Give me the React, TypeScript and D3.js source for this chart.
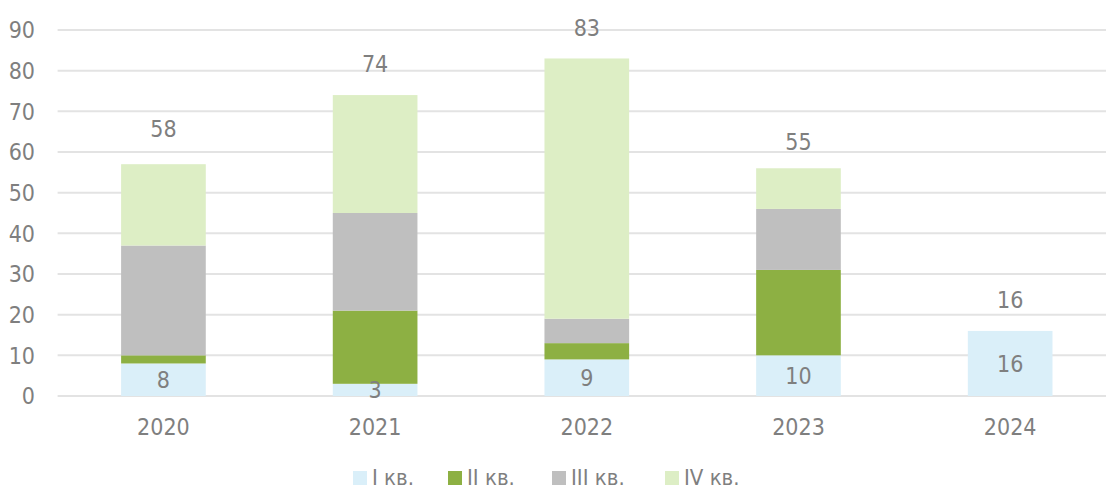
import React from 'react';
import * as d3 from 'd3';

const years = ['2020', '2021', '2022', '2023', '2024'];
const q1 = [8, 3, 9, 10, 16];
const q2 = [2, 18, 4, 21, 0];
const q3 = [27, 24, 6, 15, 0];
const q4 = [20, 29, 64, 10, 0];
const totals = [58, 74, 83, 55, 16];
const yTicks = [0, 10, 20, 30, 40, 50, 60, 70, 80, 90];
const seriesNames = ['I кв.', 'II кв.', 'III кв.', 'IV кв.'];
const colors = ['#DAEFF9', '#8DB043', '#BFBFBF', '#DDEEC5'];

const width = 1106;
const height = 491;
const font = '"DejaVu Sans Condensed", "DejaVu Sans", sans-serif';
const textColor = '#7F7F7F';

export default function App() {
  const x = d3.scaleBand<string>()
    .domain(years)
    .range([57.6, 1116])
    .paddingInner(0.6)
    .paddingOuter(0.3);

  const y = d3.scaleLinear().domain([0, 90]).range([396, 30]);

  const table = years.map((yr, i) => ({ year: yr, q1: q1[i], q2: q2[i], q3: q3[i], q4: q4[i] }));
  const stack = d3.stack<any>().keys(['q1', 'q2', 'q3', 'q4'])(table);

  // legend layout (square + label)
  const legendX = [353, 448, 552, 665];

  return (
    <svg width={width} height={height} style={{ position: 'absolute', left: 0, top: 0, background: '#fff' }}
      fontFamily={font} fontStretch="condensed">
      {yTicks.map(t => (
        <g key={t}>
          <line x1={57.6} x2={width} y1={y(t)} y2={y(t)} stroke="#E3E3E3" strokeWidth={2} />
          <text x={35} y={y(t)} dy="0.36em" textAnchor="end" fontSize={23} fill={textColor}>{t}</text>
        </g>
      ))}
      {stack.map((layer, k) => (
        <g key={k} fill={colors[k]}>
          {layer.map((d, i) => (d[1] - d[0] > 0 ?
            <rect key={i} x={x(years[i])} width={x.bandwidth()} y={y(d[1])} height={y(d[0]) - y(d[1])} /> : null))}
        </g>
      ))}
      {q1.map((v, i) => (
        <text key={'q' + i} x={x(years[i])! + x.bandwidth() / 2} y={y(v / 2)} dy="0.36em"
          textAnchor="middle" fontSize={23} fill={textColor}>{v}</text>
      ))}
      {totals.map((v, i) => (
        <text key={'t' + i} x={x(years[i])! + x.bandwidth() / 2} y={y(v) - 31} dy="0.36em"
          textAnchor="middle" fontSize={23} fill={textColor}>{v}</text>
      ))}
      {years.map(yr => (
        <text key={yr} x={x(yr)! + x.bandwidth() / 2} y={427} dy="0.36em"
          textAnchor="middle" fontSize={23} fill={textColor}>{yr}</text>
      ))}
      {seriesNames.map((s, k) => (
        <g key={s} transform={`translate(${legendX[k]},0)`}>
          <rect x={0} y={471} width={14} height={14} fill={colors[k]} />
          <text x={19} y={485} fontSize={22} fill={textColor}>{s}</text>
        </g>
      ))}
    </svg>
  );
}
